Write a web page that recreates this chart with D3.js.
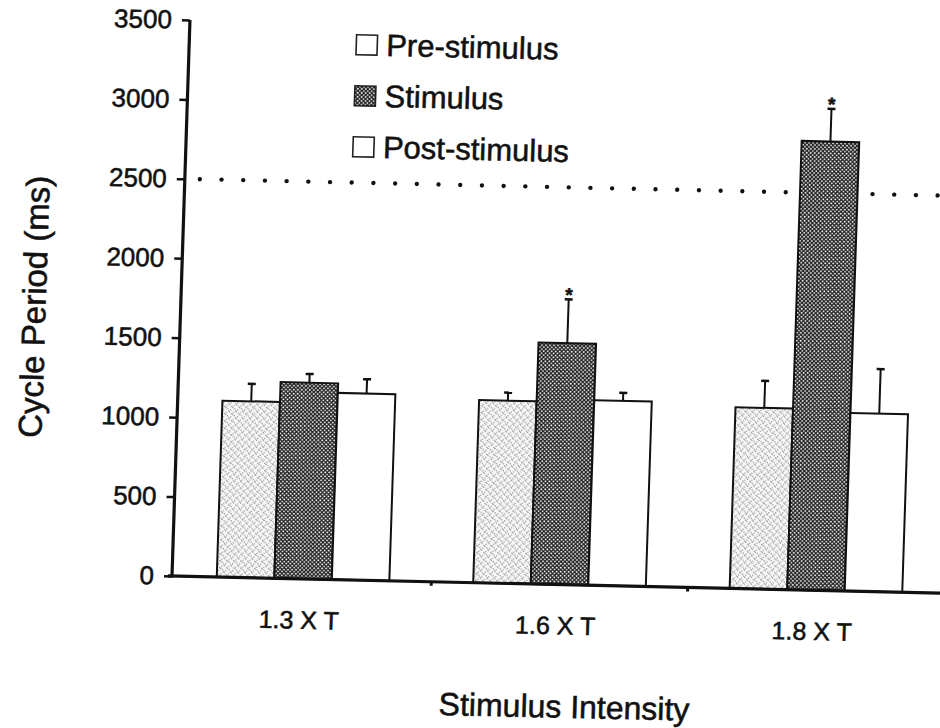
<!DOCTYPE html>
<html>
<head>
<meta charset="utf-8">
<script src="https://cdn.jsdelivr.net/npm/d3@7"></script>
<style>
  html, body { margin: 0; padding: 0; background: #fff; }
  svg { display: block; }
  text { font-family: "Liberation Sans", Arial, Helvetica, sans-serif; fill: #111; stroke: #111; stroke-width: 0.55px; }
</style>
</head>
<body>
<svg id="chart" width="940" height="728"></svg>
<script>
// ---------- data ----------
const categories = ["1.3 X T", "1.6 X T", "1.8 X T"];
const seriesNames = ["Pre-stimulus", "Stimulus", "Post-stimulus"];
const preValues  = [1110, 1150, 1140];
const stimValues = [1235, 1520, 2825];
const postValues = [1175, 1165, 1120];
const preErrors  = [110, 50, 170];
const stimErrors = [55, 275, 205];
const postErrors = [90, 50, 280];
const stimSignificant = [false, true, true];
const yTicks = [0, 500, 1000, 1500, 2000, 2500, 3000, 3500];
const referenceLine = [2500];
const yTitle = "Cycle Period (ms)";
const xTitle = "Stimulus Intensity";

// ---------- setup ----------
const svg = d3.select("#chart");
svg.append("rect").attr("width", 940).attr("height", 728).attr("fill", "#fff");

const defs = svg.append("defs");
// dark checker pattern (stimulus)
const pStim = defs.append("pattern").attr("id", "stimPat")
  .attr("patternUnits", "userSpaceOnUse").attr("width", 4).attr("height", 4);
pStim.append("rect").attr("width", 4).attr("height", 4).attr("fill", "#222");
pStim.append("circle").attr("cx", 1).attr("cy", 1).attr("r", 0.9).attr("fill", "#fff");
pStim.append("circle").attr("cx", 3).attr("cy", 3).attr("r", 0.9).attr("fill", "#fff");
// light stipple pattern (pre-stimulus)
const pPre = defs.append("pattern").attr("id", "prePat")
  .attr("patternUnits", "userSpaceOnUse").attr("width", 7).attr("height", 7);
pPre.append("rect").attr("width", 7).attr("height", 7).attr("fill", "#f7f7f7");
[[1,2],[4,5],[5,1],[2,6],[6,3],[3,0],[0,4]].forEach(([a,b]) =>
  pPre.append("rect").attr("x", a).attr("y", b).attr("width", 1).attr("height", 1).attr("fill", "#6a6a6a"));

const originX = 172, originY = 576;
// slight scan skew: x-axis tilts down to the right, y-axis leans right going up
const kx = 0.0222, ky = 0.0323;
const e = ky * originY, f = -kx * originX;
const g = svg.append("g").attr("transform", `matrix(1,${kx},${-ky},1,${e},${f})`);

const y = d3.scaleLinear().domain([0, 3500]).range([originY, 20]);
const x0 = d3.scaleBand().domain(categories).range([originX, originX + 775])
  .paddingInner(0.327).paddingOuter(0.1745);
const x1 = d3.scaleBand().domain(seriesNames).range([0, x0.bandwidth()]).padding(0);

const fills = { "Pre-stimulus": "url(#prePat)", "Stimulus": "url(#stimPat)", "Post-stimulus": "#fff" };
const legendFills = { "Pre-stimulus": "#fff", "Stimulus": "url(#stimPat)", "Post-stimulus": "#fff" };

const data = categories.map((c, i) => ({
  cat: c,
  bars: [
    { s: "Pre-stimulus", v: preValues[i], e: preErrors[i], sig: false },
    { s: "Stimulus", v: stimValues[i], e: stimErrors[i], sig: stimSignificant[i] },
    { s: "Post-stimulus", v: postValues[i], e: postErrors[i], sig: false }
  ]
}));

// ---------- reference dotted line ----------
g.selectAll("line.ref").data(referenceLine).enter().append("line")
  .attr("class", "ref")
  .attr("x1", 187).attr("x2", 980)
  .attr("y1", d => y(d)).attr("y2", d => y(d))
  .attr("stroke", "#111").attr("stroke-width", 4.4)
  .attr("stroke-linecap", "round").attr("stroke-dasharray", "0 21.7");

// ---------- bars ----------
const groups = g.selectAll("g.grp").data(data).enter().append("g")
  .attr("class", "grp").attr("transform", d => `translate(${x0(d.cat)},0)`);

groups.selectAll("g.err").data(d => d.bars).enter().append("g").attr("class", "err")
  .each(function(d) {
    const cx = x1(d.s) + x1.bandwidth() / 2;
    const sel = d3.select(this);
    sel.append("line").attr("x1", cx).attr("x2", cx)
      .attr("y1", y(d.v)).attr("y2", y(d.v + d.e))
      .attr("stroke", "#111").attr("stroke-width", 2);
    sel.append("line").attr("x1", cx - 4).attr("x2", cx + 4)
      .attr("y1", y(d.v + d.e)).attr("y2", y(d.v + d.e))
      .attr("stroke", "#111").attr("stroke-width", 2.5);
    if (d.sig) {
      sel.append("text").attr("x", cx).attr("y", y(d.v + d.e) + 2)
        .attr("text-anchor", "middle").attr("font-size", 19).attr("font-weight", "bold")
        .text("*");
    }
  });

groups.selectAll("rect.bar").data(d => d.bars).enter().append("rect")
  .attr("class", "bar")
  .attr("x", d => x1(d.s))
  .attr("width", x1.bandwidth())
  .attr("y", d => y(d.v))
  .attr("height", d => y(0) - y(d.v))
  .attr("fill", d => fills[d.s])
  .attr("stroke", "#111").attr("stroke-width", 2);

// ---------- axes ----------
const yAxis = g.append("g").attr("transform", `translate(${originX},0)`)
  .call(d3.axisLeft(y).tickValues(yTicks).tickFormat(d3.format("d")).tickSize(8).tickPadding(10));
yAxis.select(".domain").remove();
yAxis.attr("font-size", null).attr("font-family", null);
yAxis.selectAll(".tick line").attr("stroke", "#111").attr("stroke-width", 2.5);
yAxis.selectAll(".tick text").attr("fill", "#111").style("font-size", "26px");
g.append("line").attr("x1", originX).attr("x2", originX)
  .attr("y1", y(0) + 1.5).attr("y2", y(3500))
  .attr("stroke", "#111").attr("stroke-width", 3.2);

const xAxis = g.append("g").attr("transform", `translate(0,${originY})`)
  .call(d3.axisBottom(x0).tickSize(0).tickPadding(32));
xAxis.select(".domain").remove();
xAxis.attr("font-size", null).attr("font-family", null);
xAxis.selectAll(".tick text").attr("fill", "#111").attr("dx", -3).style("font-size", "25px");
g.append("line").attr("x1", originX - 4).attr("x2", 990)
  .attr("y1", originY).attr("y2", originY)
  .attr("stroke", "#111").attr("stroke-width", 3.2);
// small boundary ticks between groups
const bounds = categories.slice(1).map((c, i) =>
  (x0(categories[i]) + x0.bandwidth() + x0(c)) / 2);
g.selectAll("line.btick").data(bounds).enter().append("line")
  .attr("class", "btick")
  .attr("x1", d => d).attr("x2", d => d)
  .attr("y1", originY).attr("y2", originY + 4)
  .attr("stroke", "#111").attr("stroke-width", 3);

// ---------- titles ----------
g.append("text").attr("transform", `translate(37,310) rotate(-90)`)
  .attr("text-anchor", "middle").attr("font-size", 33).text(yTitle);
g.append("text").attr("x", 568).attr("y", 709)
  .attr("text-anchor", "middle").attr("font-size", 32).text(xTitle);

// ---------- legend ----------
const legend = g.selectAll("g.leg").data(seriesNames).enter().append("g")
  .attr("class", "leg").attr("transform", (d, i) => `translate(339,${31 + i * 51})`);
legend.append("rect").attr("width", 21).attr("height", 20)
  .attr("fill", d => legendFills[d]).attr("stroke", "#222").attr("stroke-width", 1.6);
legend.append("text").attr("x", 30).attr("y", 20.5).attr("font-size", 31).text(d => d);
</script>
</body>
</html>
